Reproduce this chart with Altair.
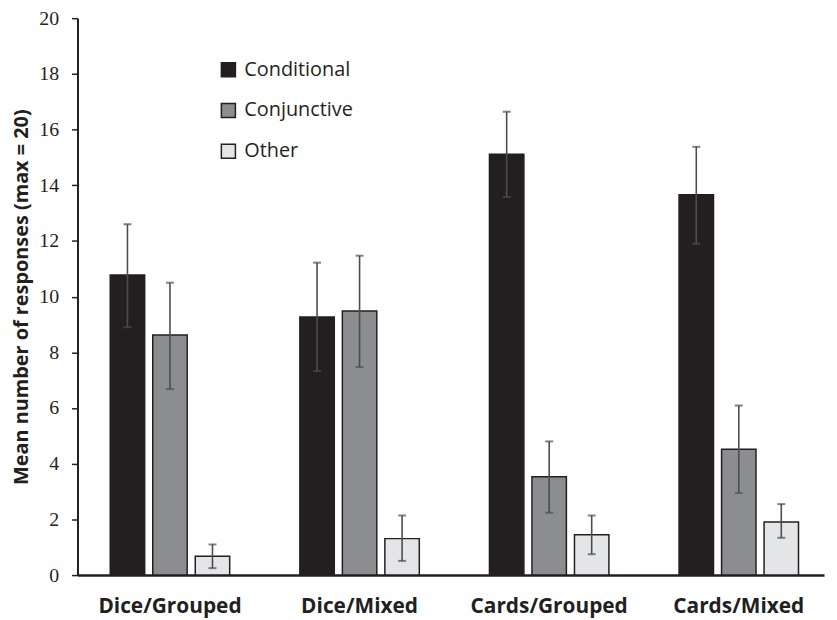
import altair as alt
import pandas as pd

conditions = ["Dice/Grouped", "Dice/Mixed", "Cards/Grouped", "Cards/Mixed"]
types = ["Conditional", "Conjunctive", "Other"]
means = {
    "Conditional": [10.78, 9.27, 15.11, 13.66],
    "Conjunctive": [8.62, 9.48, 3.53, 4.52],
    "Other": [0.68, 1.31, 1.45, 1.91],
}
err_hi = {
    "Conditional": [12.6, 11.22, 16.64, 15.38],
    "Conjunctive": [10.5, 11.47, 4.8, 6.09],
    "Other": [1.1, 2.14, 2.14, 2.55],
}
err_lo = {
    "Conditional": [8.9, 7.33, 13.58, 11.9],
    "Conjunctive": [6.68, 7.47, 2.24, 2.95],
    "Other": [0.25, 0.51, 0.75, 1.34],
}
colors = ["#231f20", "#8c8d90", "#e4e5e7"]

rows = []
for t in types:
    for i, c in enumerate(conditions):
        rows.append({"condition": c, "type": t, "mean": means[t][i],
                     "lo": err_lo[t][i], "hi": err_hi[t][i]})
df = pd.DataFrame(rows)

x = alt.X("condition:N", sort=conditions,
          scale=alt.Scale(paddingInner=0.37, paddingOuter=0.1537, align=0.562),
          axis=alt.Axis(title=None, labelAngle=0, ticks=False, domainColor="#231f20",
                        domainWidth=2.5, labelFont="Open Sans", labelFontWeight="bold",
                        labelFontSize=21, labelColor="#231f20", labelPadding=21))
xo = alt.XOffset("type:N", sort=types, scale=alt.Scale(paddingInner=0.19, paddingOuter=0))

base = alt.Chart(df)

bars = base.mark_bar(stroke="#231f20", strokeWidth=1.5).encode(
    x=x,
    xOffset=xo,
    y=alt.Y("mean:Q", scale=alt.Scale(domain=[0, 20]),
            axis=alt.Axis(title="Mean number of responses (max = 20)", values=list(range(0, 21, 2)),
                          grid=False, domainColor="#231f20", domainWidth=2, tickColor="#231f20",
                          tickSize=6, tickWidth=1.5, labelFont="Liberation Serif", labelFontSize=20,
                          labelColor="#231f20", labelPadding=13, titleFont="Open Sans",
                          titleFontWeight="bold", titleFontSize=20, titleColor="#231f20",
                          titlePadding=7)),
    fill=alt.Fill("type:N", sort=types, scale=alt.Scale(domain=types, range=colors),
                  legend=alt.Legend(title=None, orient="none", legendX=142, legendY=42,
                                    symbolType="square", symbolSize=200, symbolStrokeColor="#231f20",
                                    symbolStrokeWidth=1.5, labelFont="Open Sans", labelFontSize=20,
                                    labelColor="#231f20", rowPadding=19, labelOffset=6)),
)

rules = base.mark_rule(color="#4d4d4d", strokeWidth=1.6).encode(
    x=x, xOffset=xo, y="lo:Q", y2="hi:Q")
caps_hi = base.mark_tick(color="#4d4d4d", thickness=2, size=8).encode(x=x, xOffset=xo, y="hi:Q")
caps_lo = base.mark_tick(color="#4d4d4d", thickness=2, size=8).encode(x=x, xOffset=xo, y="lo:Q")

chart = alt.layer(bars, rules, caps_hi, caps_lo).properties(
    width=752, height=561,
    autosize=alt.AutoSizeParams(type="none"),
    padding={"left": 70, "top": 8, "right": 5, "bottom": 45},
).configure_view(stroke=None)

chart.save("out.html", embed_options={"renderer": "svg", "actions": False})
